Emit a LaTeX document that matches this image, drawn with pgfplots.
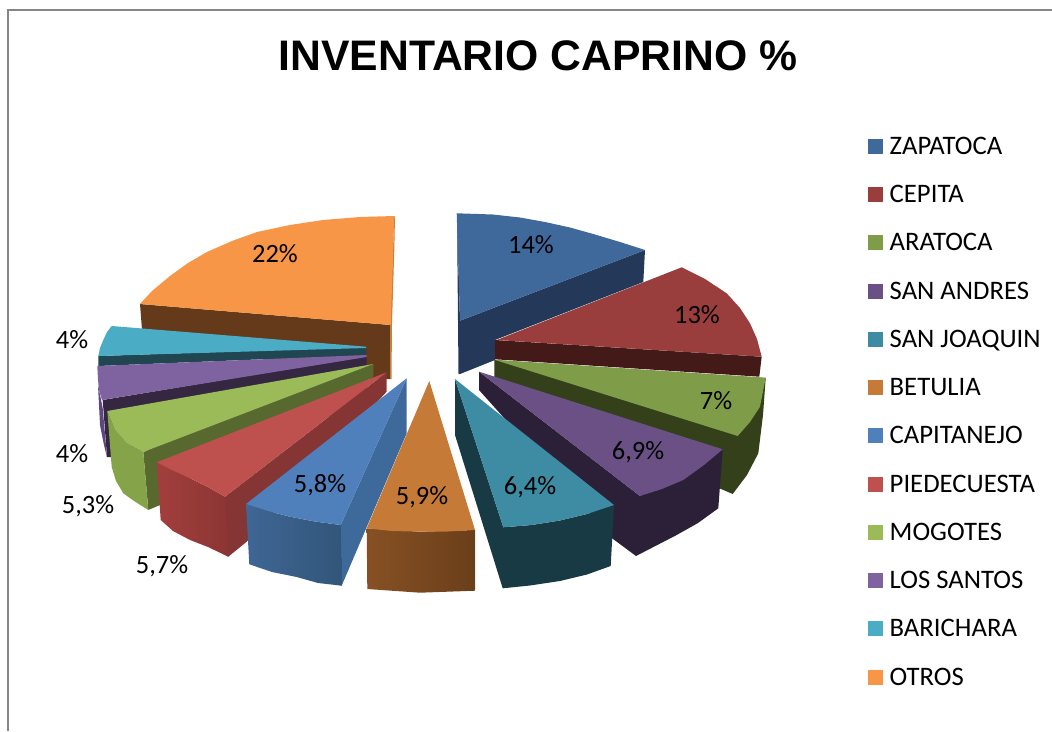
\documentclass[border=0pt]{standalone}
\usepackage{pgfplots}
\pgfplotsset{compat=1.18}
\usepackage{fontspec}
\setmainfont{Carlito}
\newfontfamily\titlefont{Liberation Sans}
\definecolor{zap}{HTML}{3F689B}\definecolor{zapd}{HTML}{24395A}
\definecolor{cep}{HTML}{993E3C}\definecolor{cepd}{HTML}{441A18}
\definecolor{ara}{HTML}{7F9C48}\definecolor{arad}{HTML}{33401A}
\definecolor{san}{HTML}{6A5084}\definecolor{sand}{HTML}{2B2038}
\definecolor{joa}{HTML}{3D8CA4}\definecolor{joad}{HTML}{183A44}
\definecolor{bet}{HTML}{C67A38}\definecolor{betl}{HTML}{875024}\definecolor{betr}{HTML}{6A3F1A}
\definecolor{cap}{HTML}{4F80BC}\definecolor{capd}{HTML}{3E6A9B}\definecolor{capl}{HTML}{3F6695}\definecolor{capr}{HTML}{325679}
\definecolor{pie}{HTML}{BE504D}\definecolor{pied}{HTML}{853534}\definecolor{piel}{HTML}{A23F3D}\definecolor{pier}{HTML}{8C3533}
\definecolor{mog}{HTML}{9BBB59}\definecolor{mogd}{HTML}{58692F}\definecolor{mogs}{HTML}{85A349}
\definecolor{los}{HTML}{7F63A1}\definecolor{losd}{HTML}{352642}\definecolor{loss}{HTML}{5F4680}
\definecolor{bar}{HTML}{4BACC6}\definecolor{bard}{HTML}{1F4651}
\definecolor{otr}{HTML}{F79646}\definecolor{otrd}{HTML}{643A1A}\definecolor{otrs}{HTML}{C8803E}
\newcommand\poly[2]{\addplot[fill=#1,draw=none] coordinates {#2} --cycle;}
\newcommand\grad[3]{\addplot[left color=#1,right color=#2,draw=none] coordinates {#3} --cycle;}
\newcommand\lab[3]{\node[font=\fontsize{26.4}{30}\selectfont,anchor=center] at (axis cs:#1,#2) {#3};}
\newcommand\leg[3]{\addplot[fill=#1,draw=none] coordinates {(868,#2-7.5)(883,#2-7.5)(883,#2+7.5)(868,#2+7.5)} --cycle;}
\newcommand\legt[2]{\node[font=\fontsize{26.7}{30}\selectfont,anchor=base west,inner sep=0pt] at (axis cs:889.5,#1+8) {#2};}
\begin{document}
\begin{tikzpicture}
\begin{axis}[name=chart,hide axis,scale only axis,width=1052pt,height=731pt,xmin=0,xmax=1052,ymin=0,ymax=731,y dir=reverse,clip=false]
\addplot[draw=gray!95,line width=2pt] coordinates {(8,731)(8,10)(1052,10)};
% OTROS
\poly{otrd}{(140,304)(391,325)(390.5,379)(366,379)(142,330)}
\poly{otrs}{(394.3,216)(395,216)(394.3,250)(392,323)(391.5,379)(390,379)(390,325)}
\poly{otr}{(140,304)(152,291)(170,276)(188,263)(207,252)(232,241)(257,232)(290,225)(323,220)(360,217)(394.3,216)(390.7,325)}
% BARICHARA
\poly{bard}{(98.3,356)(366,347)(366,355)(98.3,366)}
\poly{bar}{(111.7,326)(366,346.7)(366,348)(98.3,356)(100,348)(103.3,340)(107,332)}
% LOS SANTOS
\poly{losd}{(102.7,400)(366.7,356)(366.7,410)(111.7,457)(107,457)}
\poly{loss}{(98,385)(102.7,408)(107,457)(104,445)(100,425)}
\poly{los}{(97.3,366)(366.7,355)(366.7,357)(102,400)(99,390)(98,380)}
% MOGOTES
\poly{mogd}{(143.3,452)(373.3,364)(373.3,377)(200,470)(160,505)(148.3,510)}
\poly{mogs}{(107.3,411)(115,430)(126.7,443.3)(143.3,452)(148.3,510)(134,501)(123.3,493.3)(116,481)(111.7,467)}
\poly{mog}{(373.3,364)(143.3,452)(126.7,443.3)(115,430)(107.3,411)}
% PIEDECUESTA
\poly{pied}{(225,496.7)(386.7,372.3)(386.7,391.7)(246.7,541.7)(228.3,556.7)(220,552)(218,495)}
\grad{piel}{pier}{(156.7,462.3)(172,470)(190,478.3)(208,487)(225,496.7)(228.3,556.7)(208,547)(190,540)(173,531)(160.7,520)}
\poly{pie}{(386.7,372.3)(225,496.7)(208,487)(190,478.3)(172,470)(156.7,462.3)}
% CAPITANEJO
\poly{capd}{(340.7,525)(406.7,378.3)(406.7,433.3)(341.7,585.7)(336,584)(335,526)}
\grad{capl}{capr}{(246,504)(268,511)(290,516.7)(315,521.5)(340.7,525)(341.7,585.7)(318,583)(296.7,577)(272,572)(249.3,564.3)}
\poly{cap}{(406.7,378.3)(340.7,525)(315,521.5)(290,516.7)(268,511)(246,504)}
% ZAPATOCA
\poly{zapd}{(457,213.3)(460,320.7)(645,250)(643.3,282)(495,340)(495,360)(460,374)(458.5,374)}
\poly{zap}{(456.7,213.3)(493,214.5)(520,217.5)(545,222)(570,227.5)(595,234.5)(620,242)(645,250)(460,320.7)}
% CEPITA
\poly{cepd}{(495,340)(761.7,356.7)(759.3,376.7)(495,359.3)}
\poly{cep}{(496.7,340)(681.7,267.3)(705,279)(726.7,293.3)(740,308)(750,323.3)(757,339)(761.7,356.7)}
% ARATOCA
\poly{arad}{(494.3,360)(765.7,378)(763,415)(758.3,453.3)(747,475)(732.7,494)(700,480)(494.3,376.7)}
\poly{ara}{(495,360)(765.7,377.7)(760,406.7)(750,422)(737.7,436)}
% SAN ANDRES
\poly{sand}{(479,371.7)(640,496)(722.7,449.3)(718.3,508.3)(698,523)(676.7,535)(636,556)(611.7,538)(479,390)}
\poly{san}{(479,371.7)(722.7,449.3)(704,465)(683.3,480)(662,489)(640,496)}
% SAN JOAQUIN
\poly{joad}{(455,379)(503.3,527.3)(531.7,525)(560,520.5)(587,514)(614,505)(610.7,566)(587,574.5)(560,581)(530,585.5)(502.7,588.3)(455,435)}
\poly{joa}{(455,379)(614,505)(587,514)(560,520.5)(531.7,525)(503.3,527.3)}
% BETULIA
\grad{betl}{betr}{(366.7,528.3)(420,531.7)(475,530)(475,590.7)(420,592.7)(367.3,589)}
\poly{bet}{(429.3,381)(475,530)(448,531.5)(420,531.7)(392,531)(366.7,528.3)}
% labels
\node[font=\titlefont\bfseries\fontsize{42.7}{50}\selectfont,anchor=center] at (axis cs:538,56) {INVENTARIO CAPRINO \%};
\lab{531}{245}{14\%}\lab{697}{315}{13\%}\lab{716}{401}{7\%}\lab{638}{452}{6,9\%}
\lab{530}{487}{6,4\%}\lab{422}{497}{5,9\%}\lab{320}{485}{5,8\%}\lab{162}{566}{5,7\%}
\lab{88}{506}{5,3\%}\lab{72}{454}{4\%}\lab{72}{340}{4\%}\lab{275}{254}{22\%}
% legend
\leg{zap}{146.5}{}\legt{146.5}{ZAPATOCA}
\leg{cep}{194.5}{}\legt{194.5}{CEPITA}
\leg{ara}{242.5}{}\legt{242.5}{ARATOCA}
\leg{san}{291.5}{}\legt{291.5}{SAN ANDRES}
\leg{joa}{339.5}{}\legt{339.5}{SAN JOAQUIN}
\leg{bet}{387.5}{}\legt{387.5}{BETULIA}
\leg{cap}{435.5}{}\legt{435.5}{CAPITANEJO}
\leg{pie}{484}{}\legt{484}{PIEDECUESTA}
\leg{mog}{532}{}\legt{532}{MOGOTES}
\leg{los}{580.5}{}\legt{580.5}{LOS SANTOS}
\leg{bar}{628.5}{}\legt{628.5}{BARICHARA}
\leg{otr}{677}{}\legt{677}{OTROS}
\end{axis}
\pgfresetboundingbox
\useasboundingbox (chart.south west) rectangle (chart.north east);
\end{tikzpicture}
\end{document}
